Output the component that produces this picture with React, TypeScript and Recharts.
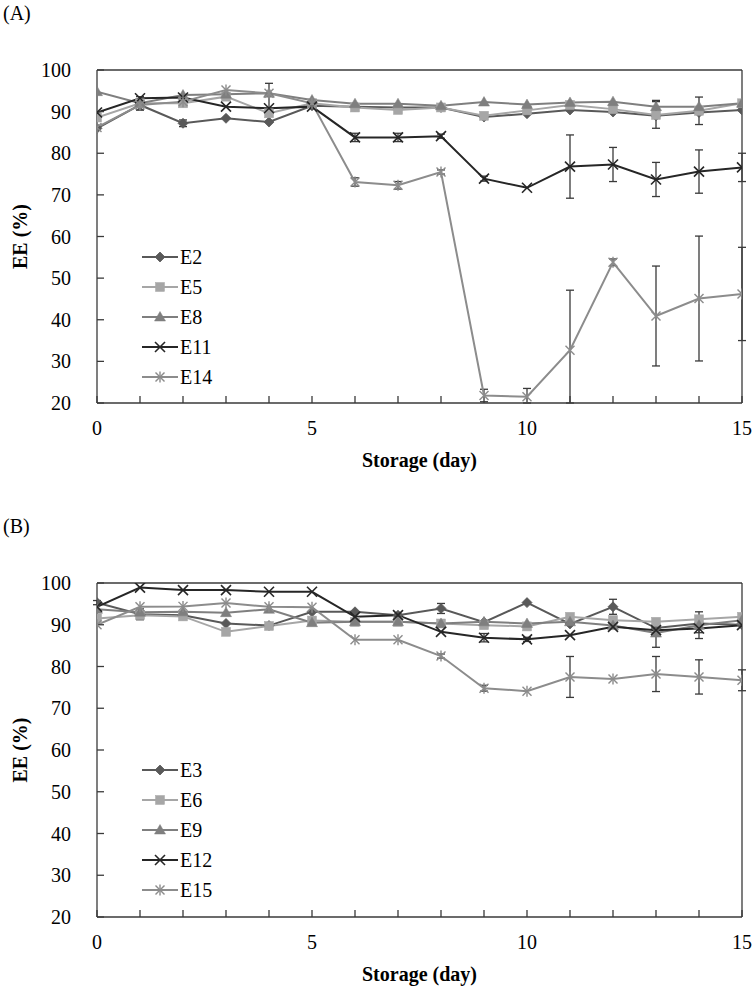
import React from 'react';
import { LineChart, Line, XAxis, YAxis, ErrorBar, ReferenceLine, Legend } from 'recharts';

const FONT = "'Liberation Serif', 'Times New Roman', serif";

const days = [0, 1, 2, 3, 4, 5, 6, 7, 8, 9, 10, 11, 12, 13, 14, 15];
const yTicks = [20, 30, 40, 50, 60, 70, 80, 90, 100];

// Panel A
const E2 = [86, 91.6, 87.2, 88.4, 87.5, 91.4, 91.2, 91, 91, 88.7, 89.5, 90.4, 89.9, 89, 89.8, 90.4];
const E5 = [88.6, 92, 92, 93.6, 89.6, 92, 91, 90.4, 91, 89, 90.3, 91.6, 90.6, 89.2, 90.2, 92];
const E8 = [94.8, 92, 94, 94.2, 94.4, 92.8, 91.9, 91.9, 91.4, 92.3, 91.7, 92.2, 92.4, 91.2, 91.2, 92];
const E11 = [89.8, 93.2, 93.4, 91.2, 90.8, 91.2, 83.8, 83.8, 84.1, 73.9, 71.7, 76.8, 77.3, 73.7, 75.6, 76.6];
const E14 = [86.2, 91.6, 92.4, 95.2, 94.4, 92, 73.1, 72.3, 75.5, 21.8, 21.5, 32.7, 53.8, 40.9, 45.1, 46.2];

const E2err: any[] = [0, 1.2, 0.8, 0, 0, 0, 0, 0, 0, 0, 0, 0, 0, 0, 0, 0];
const E5err: any[] = [0, 1.6, 0, 0, 0, 0, 0, 0, 0, 0.6, 0, 0, 0, 3.2, 3.3, 0];
const E8err: any[] = [0, 0, 0, 0, 0, 0, 0, 0, 0, 0, 0, 0, 0, 1.5, 0, 0];
const E11err: any[] = [0, 0, 0, 0, [0.5, 6], 0, 1, 1, 0.5, 0.6, 0, 7.6, 4.1, 4.1, 5.2, 3.4];
const E14err: any[] = [0, 0, 0, 0, 0, 0, 1, 0.9, 0.5, 1.5, [1.5, 2], [12.7, 14.4], 0.8, 12, 15, 11.2];

// Panel B
const E3 = [95.3, 92.5, 92.3, 90.3, 89.8, 93.1, 93.1, 92.3, 93.9, 90.6, 95.3, 90.2, 94.3, 89.2, 90.3, 90];
const E6 = [91.5, 92.3, 92, 88.3, 89.7, 91, 90.7, 90.7, 90.3, 89.9, 89.6, 91.9, 91.1, 90.7, 91.3, 91.9];
const E9 = [93.7, 93, 93.1, 92.9, 93.7, 90.5, 90.7, 90.7, 90.3, 90.7, 90.3, 90.7, 89.8, 88, 89.9, 91.1];
const E12 = [94.3, 98.9, 98.3, 98.3, 97.9, 97.9, 91.9, 92.3, 88.3, 86.9, 86.5, 87.5, 89.5, 88.7, 89.1, 89.9];
const E15 = [90, 94.3, 94.4, 95.2, 94.3, 94.2, 86.4, 86.4, 82.5, 74.8, 74.1, 77.5, 77, 78.2, 77.5, 76.7];

const E3err: any[] = [0.5, 1.3, 0, 0, 0, 0, 0, 0, 1.2, 0, 0, 0, 1.8, 0, 0, 0];
const E6err: any[] = [0, 0, 0, 0, 0.5, 0, 0, 0, 0, 0, 0, 0, 0, 0, 0, 0];
const E9err: any[] = [0, 0, 0, 0, 0, 0, 0, 0, 0, 0, 0, 0, 0, 3.4, 3.2, 0];
const E12err: any[] = [0, 0, 0, 0, 0, 0, 0, 0, 0, 1, 0.5, 0, 0, 1, 1, 0];
const E15err: any[] = [0, 0, 0, 0, 0, 0, 0, 0, 0.5, 0.7, 0, 4.9, 0, 4.2, 4.1, 2.5];

type Shape = 'diamond' | 'square' | 'triangle' | 'x' | 'star';

const seriesA = [
  { key: 'E2', values: E2, err: E2err, shape: 'diamond' as Shape, color: '#595959' },
  { key: 'E5', values: E5, err: E5err, shape: 'square' as Shape, color: '#a6a6a6' },
  { key: 'E8', values: E8, err: E8err, shape: 'triangle' as Shape, color: '#7f7f7f' },
  { key: 'E11', values: E11, err: E11err, shape: 'x' as Shape, color: '#262626' },
  { key: 'E14', values: E14, err: E14err, shape: 'star' as Shape, color: '#8c8c8c' },
];
const seriesB = [
  { key: 'E3', values: E3, err: E3err, shape: 'diamond' as Shape, color: '#595959' },
  { key: 'E6', values: E6, err: E6err, shape: 'square' as Shape, color: '#a6a6a6' },
  { key: 'E9', values: E9, err: E9err, shape: 'triangle' as Shape, color: '#7f7f7f' },
  { key: 'E12', values: E12, err: E12err, shape: 'x' as Shape, color: '#262626' },
  { key: 'E15', values: E15, err: E15err, shape: 'star' as Shape, color: '#8c8c8c' },
];

function Marker({ shape, cx, cy, color }: { shape: Shape; cx: number; cy: number; color: string }) {
  if (cx == null || cy == null || isNaN(cx) || isNaN(cy)) return null;
  if (shape === 'diamond') {
    return <polygon points={`${cx},${cy - 5} ${cx + 5},${cy} ${cx},${cy + 5} ${cx - 5},${cy}`} fill={color} stroke={color} strokeWidth={0.8} />;
  }
  if (shape === 'square') {
    return <rect x={cx - 4.5} y={cy - 4.5} width={9} height={9} fill={color} stroke={color} strokeWidth={0.5} />;
  }
  if (shape === 'triangle') {
    return <polygon points={`${cx},${cy - 5.5} ${cx + 5.5},${cy + 4} ${cx - 5.5},${cy + 4}`} fill={color} stroke={color} strokeWidth={0.5} />;
  }
  if (shape === 'x') {
    return (
      <g stroke={color} strokeWidth={1.6}>
        <line x1={cx - 5} y1={cy - 5} x2={cx + 5} y2={cy + 5} />
        <line x1={cx - 5} y1={cy + 5} x2={cx + 5} y2={cy - 5} />
      </g>
    );
  }
  return (
    <g stroke={color} strokeWidth={1.4}>
      <line x1={cx - 4.5} y1={cy - 4.5} x2={cx + 4.5} y2={cy + 4.5} />
      <line x1={cx - 4.5} y1={cy + 4.5} x2={cx + 4.5} y2={cy - 4.5} />
      <line x1={cx} y1={cy - 5.5} x2={cx} y2={cy + 5.5} />
    </g>
  );
}

function buildRows(series: typeof seriesA) {
  return days.map((d, i) => {
    const row: any = { day: d };
    series.forEach((s) => {
      row[s.key] = s.values[i];
      row[s.key + 'e'] = s.err[i];
    });
    return row;
  });
}

const LegendBox = ({ items }: { items: typeof seriesA }) => (
  <div style={{ fontFamily: FONT, fontSize: 20, color: '#000' }}>
    {items.map((it) => (
      <div key={it.key} style={{ display: 'flex', alignItems: 'center', height: 30 }}>
        <svg width={38} height={30} style={{ display: 'block' }}>
          <line x1={0} y1={15} x2={36} y2={15} stroke={it.color} strokeWidth={2} />
          <Marker shape={it.shape} cx={18} cy={15} color={it.color} />
        </svg>
        <span style={{ lineHeight: '30px' }}>{it.key}</span>
      </div>
    ))}
  </div>
);

const YLabel = (props: any) => {
  const vb = props.viewBox || {};
  const cy = (vb.y || 0) + (vb.height || 0) / 2;
  return (
    <text x={20} y={cy} transform={`rotate(-90, 20, ${cy})`} textAnchor="middle" dominantBaseline="central"
      fontFamily={FONT} fontSize={20} fontWeight="bold" fill="#000">EE (%)</text>
  );
};

const XLabel = (props: any) => {
  const vb = props.viewBox || {};
  const cx = (vb.x || 0) + (vb.width || 0) / 2;
  return (
    <text x={cx} y={(vb.y || 0) + 57} textAnchor="middle" dominantBaseline="central"
      fontFamily={FONT} fontSize={20} fontWeight="bold" fill="#000">Storage (day)</text>
  );
};

function Panel({ series, height, marginBottom }: { series: typeof seriesA; height: number; marginBottom: number }) {
  const rows = buildRows(series);
  const axisColor = '#3a3a3a';
  return (
    <LineChart width={755} height={height} data={rows} margin={{ top: 70, right: 13, left: 0, bottom: marginBottom }}>
      <XAxis
        dataKey="day"
        type="number"
        domain={[0, 15]}
        ticks={days}
        interval={0}
        tickFormatter={(v: number) => (v % 5 === 0 ? String(v) : '')}
        tickSize={-7}
        tickMargin={25}
        height={70}
        stroke={axisColor}
        axisLine={{ stroke: axisColor, strokeWidth: 1.3 }}
        tickLine={{ stroke: axisColor, strokeWidth: 1.3 }}
        tick={{ fontFamily: FONT, fontSize: 20, fill: '#000' }}
        label={<XLabel />}
        allowDataOverflow
      />
      <YAxis
        type="number"
        domain={[20, 100]}
        ticks={yTicks}
        interval={0}
        width={97}
        tickSize={-7}
        tickMargin={33}
        stroke={axisColor}
        axisLine={{ stroke: axisColor, strokeWidth: 1.3 }}
        tickLine={{ stroke: axisColor, strokeWidth: 1.3 }}
        tick={{ fontFamily: FONT, fontSize: 20, fill: '#000' }}
        label={<YLabel />}
        allowDataOverflow
      />
      <ReferenceLine y={100} stroke={axisColor} strokeWidth={1.3} />
      <ReferenceLine x={15} stroke={axisColor} strokeWidth={1.3} />
      {series.map((s) => (
        <Line
          key={s.key}
          dataKey={s.key}
          stroke={s.color}
          strokeWidth={2}
          isAnimationActive={false}
          activeDot={false}
          dot={(p: any) => <Marker key={`${s.key}-${p.index}`} shape={s.shape} cx={p.cx} cy={p.cy} color={s.color} />}
        >
          <ErrorBar dataKey={s.key + 'e'} width={4} stroke="#3a3a3a" strokeWidth={1.3} direction="y" />
        </Line>
      ))}
      <Legend
        layout="vertical"
        align="center"
        verticalAlign="middle"
        wrapperStyle={{ left: 142, top: 242, width: 'auto' }}
        content={() => <LegendBox items={series} />}
      />
    </LineChart>
  );
}

export default function App() {
  const titleStyle: React.CSSProperties = { position: 'absolute', left: 3, fontFamily: FONT, fontSize: 20, lineHeight: '22px', color: '#000' };
  return (
    <div style={{ position: 'absolute', left: 0, top: 0, width: 755, height: 988, background: '#fff' }}>
      <div style={{ position: 'absolute', left: 0, top: 0 }}>
        <Panel series={seriesA} height={513} marginBottom={40} />
      </div>
      <div style={{ position: 'absolute', left: 0, top: 513 }}>
        <Panel series={seriesB} height={475} marginBottom={1} />
      </div>
      <div style={{ ...titleStyle, top: 2 }}>(A)</div>
      <div style={{ ...titleStyle, top: 515 }}>(B)</div>
    </div>
  );
}
